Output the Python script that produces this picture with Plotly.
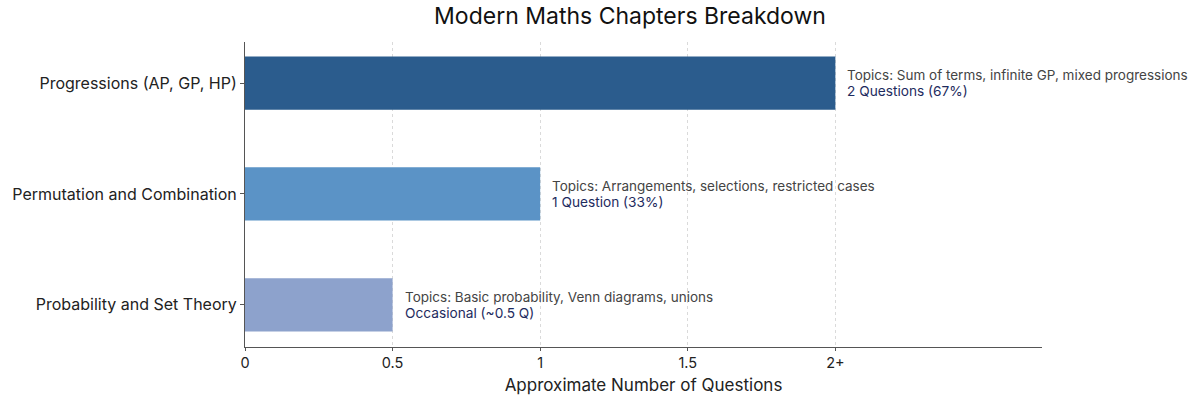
import plotly.graph_objects as go

chapters = ["Probability and Set Theory", "Permutation and Combination", "Progressions (AP, GP, HP)"]
questions = [0.5, 1, 2]
bar_colors = ["#8da2cc", "#5b93c6", "#2b5c8d"]
topics = [
    "Topics: Basic probability, Venn diagrams, unions",
    "Topics: Arrangements, selections, restricted cases",
    "Topics: Sum of terms, infinite GP, mixed progressions",
]
counts = ["Occasional (~0.5 Q)", "1 Question (33%)", "2 Questions (67%)"]
tick_vals = [0, 0.5, 1, 1.5, 2]
tick_text = ["0", "0.5", "1", "1.5", "2+"]

font = "Inter, Roboto, sans-serif"
ypos = list(range(len(chapters)))

fig = go.Figure()
fig.add_trace(go.Bar(x=questions, y=ypos, orientation="h", width=0.48,
                     marker=dict(color=bar_colors, line=dict(width=0)),
                     hoverinfo="skip", showlegend=False))

for i in range(len(chapters)):
    fig.add_annotation(
        x=questions[i], y=ypos[i], xref="x", yref="y", xshift=10,
        xanchor="left", yanchor="middle", align="left", showarrow=False,
        text=f"<span style='font-size:13.5px;color:#444444'>{topics[i]}</span><br>"
             f"<span style='font-size:13.7px;color:#1e2b5e'>{counts[i]}</span>",
    )

fig.update_layout(
    width=1200, height=400,
    margin=dict(l=245, r=158, t=42, b=53),
    paper_bgcolor="white", plot_bgcolor="white",
    font=dict(family=font, size=12, color="#222222"),
    title=dict(text="Modern Maths Chapters Breakdown", x=0.525, xanchor="center",
               y=0.96, yanchor="middle", font=dict(size=23, color="#111111")),
    bargap=0.5,
)
fig.update_xaxes(range=[0, 2.7], tickvals=tick_vals, ticktext=tick_text,
                 showgrid=True, gridcolor="#dadada", griddash="3px,3px", gridwidth=1,
                 showline=True, linecolor="#555555", linewidth=1,
                 ticks="outside", ticklen=3, tickcolor="#555555",
                 tickfont=dict(size=14.5), zeroline=False, automargin=False,
                 title=dict(text="Approximate Number of Questions", font=dict(size=17), standoff=8))
fig.update_yaxes(range=[-0.38, 2.37], tickvals=ypos, ticktext=chapters,
                 showgrid=False, showline=True, linecolor="#555555", linewidth=1,
                 ticks="outside", ticklen=4, tickcolor="#555555",
                 tickfont=dict(size=16), zeroline=False, automargin=False)

fig.write_html("out.html", config={"displayModeBar": False},
               post_script="document.body.style.margin='0px';")
